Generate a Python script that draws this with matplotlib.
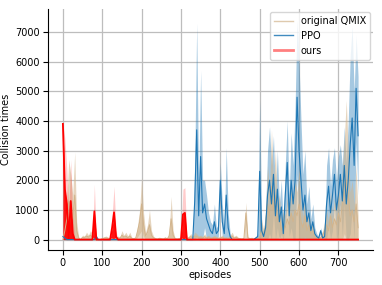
import matplotlib
matplotlib.use("Agg")
import matplotlib.pyplot as plt
import numpy as np
from matplotlib.lines import Line2D

# one value every 5 episodes (0..750), rows of 10 = 50 episodes
episodes = np.arange(0, 751, 5)

ours_mean = [3900, 1700, 1200, 50, 1300, 200, 0, 0, 0, 0,
             0, 0, 0, 0, 0, 0, 950, 0, 0, 0,
             0, 0, 0, 0, 0, 400, 920, 100, 0, 0,
             0, 0, 0, 0, 0, 0, 0, 0, 0, 0,
             0, 0, 0, 0, 0, 0, 0, 0, 0, 0,
             0, 0, 0, 0, 0, 0, 0, 0, 0, 0,
             0, 850, 900, 0, 0, 0, 0, 0, 0, 0,
             0, 0, 0, 0, 0, 0, 0, 0, 0, 0,
             0, 0, 0, 0, 0, 0, 0, 0, 0, 0,
             0, 0, 0, 0, 0, 0, 0, 0, 0, 0,
             0, 0, 0, 0, 0, 0, 0, 0, 0, 0,
             0, 0, 0, 0, 0, 0, 0, 0, 0, 0,
             0, 0, 0, 0, 0, 0, 0, 0, 0, 0,
             0, 0, 0, 0, 0, 0, 0, 0, 0, 0,
             0, 0, 0, 0, 0, 0, 0, 0, 0, 0,
             0]
ours_hi = [3950, 3400, 2400, 1000, 2700, 800, 50, 0, 0, 0,
           0, 0, 0, 0, 0, 0, 1870, 0, 0, 0,
           0, 0, 0, 0, 0, 800, 1800, 300, 0, 0,
           0, 0, 0, 0, 0, 0, 0, 0, 0, 0,
           0, 0, 0, 0, 0, 0, 0, 0, 0, 0,
           0, 0, 0, 0, 0, 0, 0, 0, 0, 0,
           0, 1700, 1750, 0, 0, 0, 0, 0, 0, 0,
           0, 0, 0, 0, 0, 0, 0, 0, 0, 0,
           0, 0, 0, 0, 0, 0, 0, 0, 0, 0,
           0, 0, 0, 0, 0, 0, 0, 0, 0, 0,
           0, 0, 0, 0, 0, 0, 0, 0, 0, 0,
           0, 0, 0, 0, 0, 0, 0, 0, 0, 0,
           0, 0, 0, 0, 0, 0, 0, 0, 0, 0,
           0, 0, 0, 0, 0, 0, 0, 0, 0, 0,
           0, 0, 0, 0, 0, 0, 0, 0, 0, 0,
           0]

qmix_mean = [0, 300, 700, 1300, 1100, 700, 1500, 300, 50, 0,
             80, 60, 120, 80, 150, 80, 0, 40, 0, 0,
             30, 50, 60, 40, 30, 20, 0, 30, 60, 40,
             150, 80, 120, 60, 120, 40, 30, 50, 300, 600,
             1200, 500, 120, 250, 500, 150, 60, 30, 20, 40,
             30, 20, 50, 20, 120, 700, 150, 30, 20, 30,
             50, 0, 0, 30, 60, 100, 60, 120, 100, 60,
             80, 50, 100, 50, 80, 40, 50, 80, 50, 40,
             50, 80, 40, 50, 30, 80, 120, 50, 80, 40,
             30, 20, 40, 900, 50, 30, 40, 20, 50, 30,
             80, 300, 150, 500, 1200, 800, 1800, 1000, 1500, 600,
             800, 300, 500, 400, 700, 500, 900, 600, 1000, 800,
             1200, 600, 400, 800, 300, 500, 200, 300, 80, 60,
             30, 60, 150, 300, 500, 300, 800, 400, 700, 500,
             900, 600, 1200, 1800, 2000, 1500, 800, 1000, 600, 1200,
             400]
qmix_hi = [0, 900, 1400, 2700, 2200, 1500, 2950, 600, 100, 0,
           150, 120, 250, 150, 300, 200, 0, 80, 0, 0,
           60, 100, 120, 80, 60, 40, 0, 60, 120, 80,
           300, 150, 250, 120, 250, 80, 60, 100, 500, 1000,
           2100, 900, 250, 500, 1000, 300, 120, 60, 40, 80,
           60, 40, 100, 40, 250, 1450, 300, 60, 40, 60,
           100, 0, 0, 60, 120, 200, 120, 250, 200, 120,
           150, 100, 200, 100, 150, 80, 100, 150, 100, 80,
           100, 150, 80, 100, 60, 150, 250, 100, 150, 80,
           60, 40, 80, 1250, 100, 60, 80, 40, 100, 60,
           150, 700, 300, 1000, 2500, 1600, 3700, 2000, 3000, 1200,
           1500, 600, 1000, 800, 1400, 1000, 1800, 1200, 2000, 1600,
           2400, 1200, 800, 1500, 600, 1000, 400, 600, 150, 120,
           60, 120, 300, 600, 1000, 600, 1600, 800, 1400, 1000,
           1800, 1200, 2400, 3400, 4700, 3000, 1600, 2000, 1200, 2500,
           800]

ppo_mean = [100, 50, 0, 0, 0, 0, 0, 0, 0, 0,
            0, 0, 0, 0, 0, 0, 0, 100, 0, 0,
            0, 0, 0, 0, 0, 0, 0, 0, 0, 0,
            0, 0, 0, 0, 0, 0, 0, 0, 0, 0,
            0, 0, 0, 0, 0, 0, 0, 0, 0, 0,
            0, 0, 0, 0, 0, 0, 0, 0, 0, 0,
            0, 0, 0, 0, 0, 0, 0, 1300, 3700, 800,
            2800, 900, 1200, 700, 500, 300, 200, 600, 200, 300,
            2000, 600, 200, 1500, 400, 100, 0, 0, 0, 0,
            0, 0, 0, 0, 0, 0, 0, 0, 50, 100,
            2300, 300, 100, 400, 1500, 2000, 1200, 2200, 800, 1700,
            600, 1100, 200, 1500, 2600, 800, 2000, 1200, 2000, 4800,
            3000, 2000, 1000, 1500, 600, 900, 300, 600, 200, 100,
            50, 300, 50, 100, 1200, 1800, 900, 1500, 2200, 1000,
            1500, 2200, 1300, 2500, 1200, 2000, 3200, 4100, 2500, 5100,
            3500]
ppo_hi = [200, 100, 0, 0, 0, 0, 0, 0, 0, 0,
          0, 0, 0, 0, 0, 0, 0, 150, 0, 0,
          0, 0, 0, 0, 0, 0, 0, 0, 0, 0,
          0, 0, 0, 0, 0, 0, 0, 0, 0, 0,
          0, 0, 0, 0, 0, 0, 0, 0, 0, 0,
          0, 0, 0, 0, 0, 0, 0, 0, 0, 0,
          0, 0, 0, 0, 0, 0, 0, 2600, 7300, 1800,
          5700, 2000, 2000, 1500, 900, 600, 500, 1200, 400, 500,
          2600, 1200, 400, 3100, 900, 200, 0, 0, 0, 0,
          0, 0, 0, 0, 0, 0, 0, 0, 100, 200,
          4700, 600, 200, 900, 3000, 3800, 2500, 3500, 1600, 3000,
          1200, 2000, 500, 2500, 4000, 1500, 3600, 2500, 4500, 7400,
          6000, 4000, 2200, 3000, 1200, 1800, 700, 1200, 400, 200,
          100, 400, 100, 200, 2500, 3100, 1800, 2700, 3100, 2000,
          2800, 3200, 2500, 3800, 2600, 4000, 6200, 7200, 5000, 6900,
          5500]


def band(mean, hi):
    mean = np.array(mean, dtype=float)
    hi = np.array(hi, dtype=float)
    lo = np.maximum(2 * mean - hi, 0)
    return mean, lo, hi


plt.rcParams['font.size'] = 7
fig = plt.figure(figsize=(3.82, 2.85), dpi=100)
ax = fig.add_axes([0.126, 0.123, 0.85, 0.845])

# PPO band, then QMIX, then the mean lines, "ours" on top
m, lo, hi = band(ppo_mean, ppo_hi)
ax.fill_between(episodes, lo, hi, color='#1f77b4', alpha=0.4, lw=0)
pm = m
m, lo, hi = band(qmix_mean, qmix_hi)
ax.fill_between(episodes, lo, hi, color='tan', alpha=0.55, lw=0)
ax.fill_between(episodes, 0, m, color='tan', alpha=0.5, lw=0)
ax.plot(episodes, m, color='tan', lw=0.7)
ax.plot(episodes, pm, color='#1f77b4', lw=0.8)
m, lo, hi = band(ours_mean, ours_hi)
ax.fill_between(episodes, lo, hi, color='red', alpha=0.2, lw=0)
ax.fill_between(episodes, 0, m, color='red', alpha=0.9, lw=0)
ax.plot(episodes, m, color='red', lw=1.3)

ax.set_ylim(-350, 7770)
ax.set_xticks([0, 100, 200, 300, 400, 500, 600, 700])
ax.set_yticks([0, 1000, 2000, 3000, 4000, 5000, 6000, 7000])
ax.tick_params(pad=2.5)
ax.grid(True, color='#bdbdbd', lw=0.9)
ax.set_axisbelow(True)
ax.spines['top'].set_visible(False)
ax.spines['right'].set_visible(False)
ax.set_xlabel("episodes", labelpad=1)
ax.set_ylabel("Collision times", labelpad=3)

handles = [Line2D([], [], color='tan', alpha=0.7, lw=1),
           Line2D([], [], color='#1f77b4', alpha=0.85, lw=1),
           Line2D([], [], color='red', alpha=0.5, lw=2)]
ax.legend(handles, ["original QMIX", "PPO", "ours"], loc='upper right',
          fontsize=7, borderaxespad=0.3)

fig.savefig("out.png", dpi=100)
